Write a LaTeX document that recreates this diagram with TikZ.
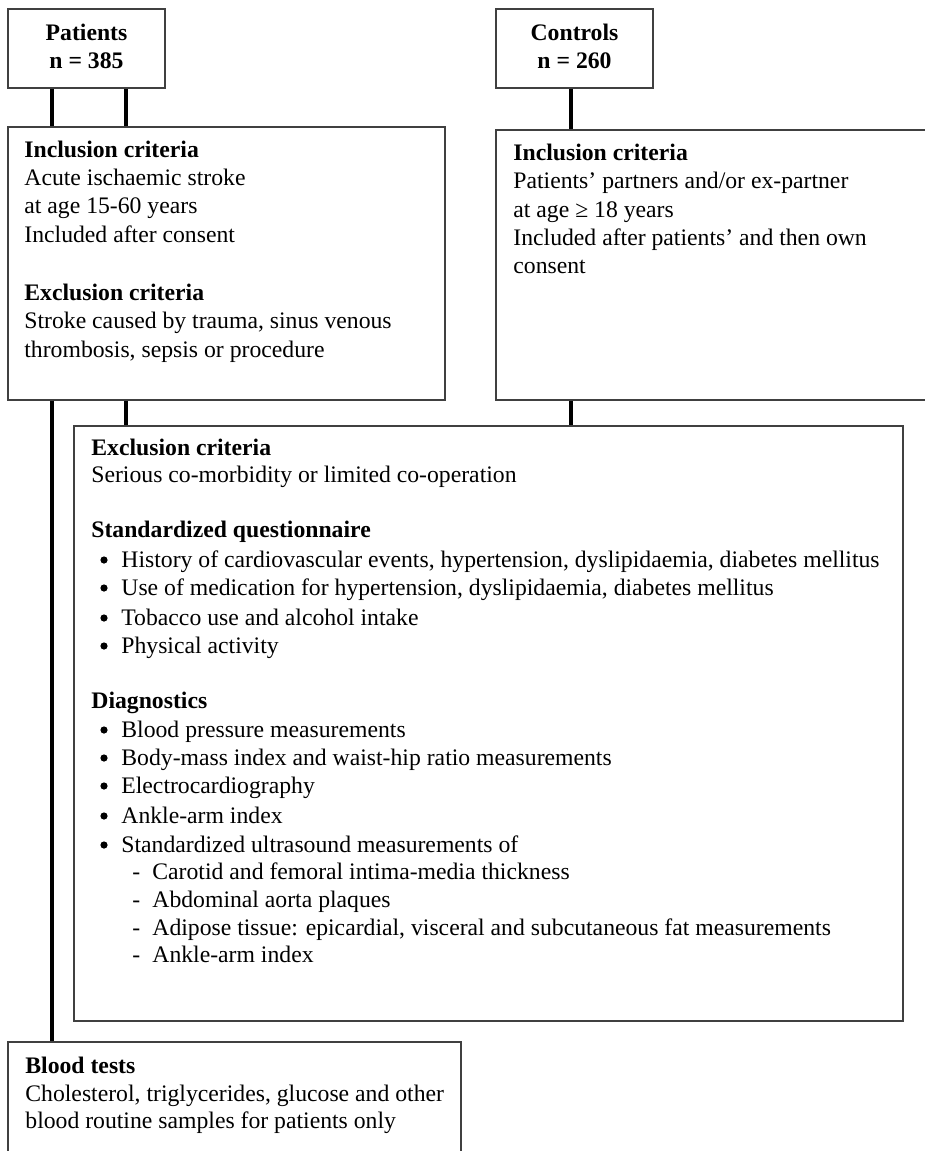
\documentclass[tikz,border=0pt]{standalone}
\usepackage{fontspec}
\setmainfont{Liberation Serif}
\usetikzlibrary{fit}
\tikzset{
  box/.style={draw=black!75, line width=0.6pt, inner sep=0pt, fill=none},
  conn/.style={draw=black, line width=2.3pt, line cap=butt},
  txt/.style={anchor=base west, inner sep=0pt, font=\fontsize{11.85}{14}\selectfont},
  hd/.style={txt, font=\fontsize{11.85}{14}\selectfont\bfseries},
  ttl/.style={anchor=base, inner sep=0pt, font=\fontsize{11.85}{14}\selectfont\bfseries},
  bul/.style={circle, fill=black, draw=none, inner sep=0pt, minimum size=3.6pt},
}
\begin{document}
\begin{tikzpicture}[x=0.5pt,y=-0.5pt]
\clip (0,0) rectangle (925,1151);
\fill[white] (0,0) rectangle (925,1151);
% boxes
\node[box, fit={(8,9)(165,88)}] (pat) {};
\node[box, fit={(496,9)(653,88)}] (con) {};
\node[box, fit={(8,127)(445,400)}] (inc) {};
\node[box, fit={(496,130)(940,400)}] (cinc) {};
\node[box, fit={(74,426)(903,1021)}] (big) {};
\node[box, fit={(8,1042)(461,1170)}] (blood) {};
% x positions of connectors
\coordinate (xa) at (52,0);
\coordinate (xb) at (126,0);
\coordinate (xc) at (571,0);
% connectors
\draw[conn] (pat.south -| xa) -- (inc.north -| xa);
\draw[conn] (pat.south -| xb) -- (inc.north -| xb);
\draw[conn] (inc.south -| xa) -- (blood.north -| xa);
\draw[conn] (inc.south -| xb) -- (big.north -| xb);
\draw[conn] (con.south -| xc) -- (cinc.north -| xc);
\draw[conn] (cinc.south -| xc) -- (big.north -| xc);
% titles
\node[ttl] (p1) at (86.5,40) {Patients};
\node[ttl] (p2) at (86.5,68) {n = 385};
\node[ttl] (c1) at (574.5,40) {Controls};
\node[ttl] (c2) at (574.5,68) {n = 260};
% patients inclusion
\node[hd]  (i1) at (24,157) {Inclusion criteria};
\node[txt] (i2) at (24,185) {Acute ischaemic stroke};
\node[txt] (i3) at (24,213) {at age 15-60 years};
\node[txt] (i4) at (24,242) {Included after consent};
\node[hd]  (i5) at (24,300) {Exclusion criteria};
\node[txt] (i6) at (24,328) {Stroke caused by trauma, sinus venous};
\node[txt] (i7) at (24,357) {thrombosis, sepsis or procedure};
% controls inclusion
\node[hd]  (k1) at (513,160) {Inclusion criteria};
\node[txt] (k2) at (513,188) {Patients’ partners and/or ex-partner};
\node[txt] (k3) at (513,217) {at age ≥ 18 years};
\node[txt] (k4) at (513,245) {Included after patients’ and then own};
\node[txt] (k5) at (513,273) {consent};
% big box
\node[hd]  (b1) at (91,455) {Exclusion criteria};
\node[txt] (b2) at (91,482) {Serious co-morbidity or limited co-operation};
\node[hd]  (b3) at (91,537) {Standardized questionnaire};
\foreach \y/\t [count=\n] in {567/{History of cardiovascular events, hypertension, dyslipidaemia, diabetes mellitus},
  595/{Use of medication for hypertension, dyslipidaemia, diabetes mellitus},
  625/{Tobacco use and alcohol intake},
  653/{Physical activity}}{
  \node[bul] (qb\n) at (104,\y-7) {};
  \node[txt] (qt\n) at (121,\y) {\t};
}
\node[hd]  (b4) at (91,708) {Diagnostics};
\foreach \y/\t [count=\n] in {737/{Blood pressure measurements},
  765/{Body-mass index and waist-hip ratio measurements},
  793/{Electrocardiography},
  823/{Ankle-arm index},
  852/{Standardized ultrasound measurements of}}{
  \node[bul] (db\n) at (104,\y-7) {};
  \node[txt] (dt\n) at (121,\y) {\t};
}
\foreach \y/\t [count=\n] in {879/{Carotid and femoral intima-media thickness},
  907/{Abdominal aorta plaques},
  935/{Adipose tissue: epicardial, visceral and subcutaneous fat measurements},
  962/{Ankle-arm index}}{
  \node[txt] (sd\n) at (132,\y) {-};
  \node[txt] (st\n) at (152,\y) {\t};
}
% blood tests
\node[hd]  (t1) at (25,1073) {Blood tests};
\node[txt] (t2) at (25,1101) {Cholesterol, triglycerides, glucose and other};
\node[txt] (t3) at (25,1128) {blood routine samples for patients only};
\end{tikzpicture}
\end{document}
